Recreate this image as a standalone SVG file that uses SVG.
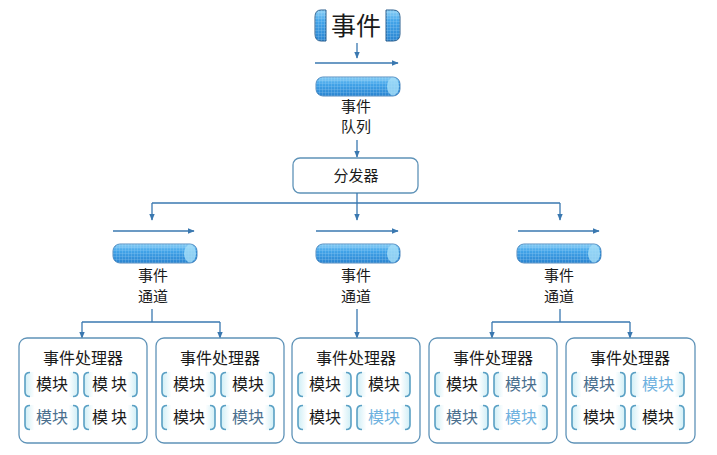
<svg xmlns="http://www.w3.org/2000/svg" xmlns:xlink="http://www.w3.org/1999/xlink" width="717" height="455" viewBox="0 0 717 455">
<style>
.t{font-family:"Noto Sans CJK SC","Noto Sans",sans-serif;fill:#1a1a1a;text-anchor:middle}
.ln{stroke:#3a78b0;stroke-width:1.3;fill:none}
.box{fill:#fff;stroke:#5f93b8;stroke-width:1.3}
.k{fill:#1a1a1a}.g{fill:#4a6f8e}.l{fill:#6fb2e0}
</style>
<defs>
<marker id="ah" viewBox="0 0 10 10" refX="9" refY="5" markerWidth="7" markerHeight="7" orient="auto" markerUnits="userSpaceOnUse"><path d="M0,1 L10,5 L0,9 Z" fill="#3a78b0"/></marker>
<linearGradient id="cyl" x1="0" y1="0" x2="0" y2="1"><stop offset="0" stop-color="#8fd2f7"/><stop offset="0.35" stop-color="#43a5ea"/><stop offset="1" stop-color="#2a84d0"/></linearGradient>
<pattern id="grid" width="3" height="3" patternUnits="userSpaceOnUse"><path d="M0,0 H3 M0,0 V3" stroke="#c6e8fc" stroke-width="0.6" opacity="0.6"/></pattern>
<linearGradient id="mg" x1="0" y1="0" x2="1" y2="0"><stop offset="0" stop-color="#cfeef6"/><stop offset="0.18" stop-color="#fff"/><stop offset="0.82" stop-color="#fff"/><stop offset="1" stop-color="#cfeef6"/></linearGradient>
<g id="cylinder">
<rect x="0" y="0" width="84" height="19" rx="7" fill="url(#cyl)" stroke="#2b6fae" stroke-width="0.8"/>
<rect x="0" y="0" width="84" height="19" rx="7" fill="url(#grid)"/>
<ellipse cx="77" cy="9.5" rx="6" ry="9" fill="#a6def8" opacity="0.8"/>
</g>
<g id="mod">
<rect x="1" y="0" width="53" height="25" rx="4" fill="url(#mg)"/>
<path d="M6,0.5 Q1,0.5 1,5 V20 Q1,24.5 6,24.5" fill="none" stroke="#5aa0c4" stroke-width="1.6"/>
<path d="M49,0.5 Q54,0.5 54,5 V20 Q54,24.5 49,24.5" fill="none" stroke="#5aa0c4" stroke-width="1.6"/>
</g>
</defs>
<rect width="717" height="455" fill="#fff"/>

<g id="event">
<path d="M326,10 H321 Q315,10 315,17 V34 Q315,41 321,41 H326 Z" fill="url(#cyl)" stroke="#2b5f8e" stroke-width="1"/>
<path d="M326,10 H321 Q315,10 315,17 V34 Q315,41 321,41 H326 Z" fill="url(#grid)"/>
<path d="M386,10 H393 Q400,10 400,17 V34 Q400,41 393,41 H386 Z" fill="url(#cyl)" stroke="#2b5f8e" stroke-width="1"/>
<path d="M386,10 H393 Q400,10 400,17 V34 Q400,41 393,41 H386 Z" fill="url(#grid)"/>
<text class="t" x="356" y="35" font-size="25">事件</text>
</g>

<g id="queue">
<use href="#cylinder" x="316" y="77"/>
<text class="t" x="356" y="112" font-size="15">事件</text>
<text class="t" x="356" y="132" font-size="15">队列</text>
</g>

<g id="dispatcher">
<rect class="box" x="293" y="158" width="125" height="35" rx="7"/>
<text class="t" x="356" y="181" font-size="15">分发器</text>
</g>

<g id="channel1">
<use href="#cylinder" x="113" y="244"/>
<text class="t" x="153" y="281" font-size="15">事件</text>
<text class="t" x="153" y="302" font-size="15">通道</text>
</g>
<g id="channel2">
<use href="#cylinder" x="316" y="244"/>
<text class="t" x="356" y="281" font-size="15">事件</text>
<text class="t" x="356" y="302" font-size="15">通道</text>
</g>
<g id="channel3">
<use href="#cylinder" x="517" y="244"/>
<text class="t" x="559" y="281" font-size="15">事件</text>
<text class="t" x="559" y="302" font-size="15">通道</text>
</g>

<g id="connectors">
<line class="ln" x1="357" y1="43" x2="357" y2="58" marker-end="url(#ah)"/>
<line class="ln" x1="315" y1="63" x2="398" y2="63" marker-end="url(#ah)"/>
<line class="ln" x1="357" y1="140" x2="357" y2="157" marker-end="url(#ah)"/>
<line class="ln" x1="357" y1="193" x2="357" y2="203"/>
<line class="ln" x1="152" y1="203" x2="560" y2="203"/>
<line class="ln" x1="152" y1="203" x2="152" y2="220" marker-end="url(#ah)"/>
<line class="ln" x1="357" y1="203" x2="357" y2="220" marker-end="url(#ah)"/>
<line class="ln" x1="560" y1="203" x2="560" y2="220" marker-end="url(#ah)"/>
<line class="ln" x1="113" y1="231" x2="194" y2="231" marker-end="url(#ah)"/>
<line class="ln" x1="316" y1="231" x2="398" y2="231" marker-end="url(#ah)"/>
<line class="ln" x1="518" y1="231" x2="599" y2="231" marker-end="url(#ah)"/>
<line class="ln" x1="152" y1="309" x2="152" y2="322"/>
<line class="ln" x1="82" y1="322" x2="220" y2="322"/>
<line class="ln" x1="82" y1="322" x2="82" y2="338" marker-end="url(#ah)"/>
<line class="ln" x1="220" y1="322" x2="220" y2="338" marker-end="url(#ah)"/>
<line class="ln" x1="357" y1="309" x2="357" y2="338" marker-end="url(#ah)"/>
<line class="ln" x1="560" y1="309" x2="560" y2="322"/>
<line class="ln" x1="492" y1="322" x2="630" y2="322"/>
<line class="ln" x1="492" y1="322" x2="492" y2="338" marker-end="url(#ah)"/>
<line class="ln" x1="630" y1="322" x2="630" y2="338" marker-end="url(#ah)"/>
</g>

<g id="handler1">
<rect class="box" x="19" y="338" width="128" height="105" rx="8"/>
<text class="t" x="83" y="364" font-size="16">事件处理器</text>
<use href="#mod" x="24" y="372"/><use href="#mod" x="83" y="372"/>
<use href="#mod" x="24" y="405"/><use href="#mod" x="83" y="405"/>
<text class="t k" x="52" y="390" font-size="16">模块</text>
<text class="t k" x="111" y="390" font-size="16" letter-spacing="3">模块</text>
<text class="t g" x="52" y="423" font-size="16">模块</text>
<text class="t k" x="111" y="423" font-size="16" letter-spacing="3">模块</text>
</g>
<g id="handler2">
<rect class="box" x="156" y="338" width="128" height="105" rx="8"/>
<text class="t" x="220" y="364" font-size="16">事件处理器</text>
<use href="#mod" x="161" y="372"/><use href="#mod" x="220" y="372"/>
<use href="#mod" x="161" y="405"/><use href="#mod" x="220" y="405"/>
<text class="t k" x="189" y="390" font-size="16">模块</text>
<text class="t k" x="248" y="390" font-size="16">模块</text>
<text class="t k" x="189" y="423" font-size="16">模块</text>
<text class="t g" x="248" y="423" font-size="16">模块</text>
</g>
<g id="handler3">
<rect class="box" x="292" y="338" width="128" height="105" rx="8"/>
<text class="t" x="356" y="364" font-size="16">事件处理器</text>
<use href="#mod" x="297" y="372"/><use href="#mod" x="356" y="372"/>
<use href="#mod" x="297" y="405"/><use href="#mod" x="356" y="405"/>
<text class="t k" x="325" y="390" font-size="16">模块</text>
<text class="t k" x="384" y="390" font-size="16">模块</text>
<text class="t k" x="325" y="423" font-size="16">模块</text>
<text class="t l" x="384" y="423" font-size="16">模块</text>
</g>
<g id="handler4">
<rect class="box" x="429" y="338" width="128" height="105" rx="8"/>
<text class="t" x="493" y="364" font-size="16">事件处理器</text>
<use href="#mod" x="434" y="372"/><use href="#mod" x="493" y="372"/>
<use href="#mod" x="434" y="405"/><use href="#mod" x="493" y="405"/>
<text class="t k" x="462" y="390" font-size="16">模块</text>
<text class="t g" x="521" y="390" font-size="16">模块</text>
<text class="t g" x="462" y="423" font-size="16">模块</text>
<text class="t l" x="521" y="423" font-size="16">模块</text>
</g>
<g id="handler5">
<rect class="box" x="566" y="338" width="129" height="105" rx="8"/>
<text class="t" x="630" y="364" font-size="16">事件处理器</text>
<use href="#mod" x="571" y="372"/><use href="#mod" x="630" y="372"/>
<use href="#mod" x="571" y="405"/><use href="#mod" x="630" y="405"/>
<text class="t g" x="599" y="390" font-size="16">模块</text>
<text class="t l" x="658" y="390" font-size="16">模块</text>
<text class="t k" x="599" y="423" font-size="16">模块</text>
<text class="t k" x="658" y="423" font-size="16">模块</text>
</g>
</svg>
